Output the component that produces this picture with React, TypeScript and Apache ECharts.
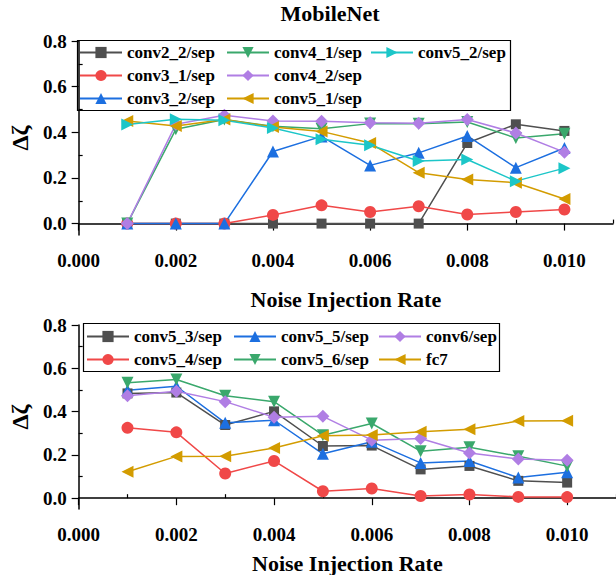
import React, { useEffect, useRef } from "react";
import * as echarts from "echarts";

const rates = [0.001, 0.002, 0.003, 0.004, 0.005, 0.006, 0.007, 0.008, 0.009, 0.01];

// Top chart (MobileNet)
const conv2_2 = [0, 0, 0, 0, 0, 0, 0, 0.353, 0.435, 0.406];
const conv3_1 = [0, 0, 0, 0.038, 0.08, 0.051, 0.076, 0.04, 0.051, 0.062];
const conv3_2 = [0, 0, 0, 0.316, 0.382, 0.255, 0.31, 0.384, 0.245, 0.331];
const conv4_1 = [0, 0.413, 0.456, 0.426, 0.415, 0.438, 0.437, 0.445, 0.375, 0.394];
const conv4_2 = [0, 0.435, 0.475, 0.45, 0.448, 0.442, 0.44, 0.456, 0.397, 0.313];
const conv5_1 = [0.45, 0.428, 0.456, 0.423, 0.404, 0.353, 0.223, 0.193, 0.179, 0.108];
const conv5_2 = [0.434, 0.457, 0.453, 0.419, 0.369, 0.343, 0.274, 0.281, 0.186, 0.243];

// Bottom chart
const conv5_3 = [0.484, 0.488, 0.338, 0.401, 0.241, 0.243, 0.133, 0.149, 0.08, 0.072];
const conv5_4 = [0.325, 0.304, 0.114, 0.172, 0.032, 0.045, 0.01, 0.017, 0.006, 0.005];
const conv5_5 = [0.499, 0.517, 0.348, 0.36, 0.205, 0.261, 0.163, 0.172, 0.095, 0.12];
const conv5_6 = [0.533, 0.548, 0.473, 0.446, 0.291, 0.345, 0.217, 0.235, 0.194, 0.148];
const conv6 = [0.473, 0.494, 0.446, 0.374, 0.378, 0.268, 0.276, 0.209, 0.181, 0.175];
const fc7 = [0.122, 0.193, 0.194, 0.232, 0.288, 0.292, 0.307, 0.318, 0.356, 0.358];

const xMajorTicks = [0, 0.002, 0.004, 0.006, 0.008, 0.01];
const xMinorTicks = [0.001, 0.003, 0.005, 0.007, 0.009, 0.011];
const yMajorTicks = [0, 0.2, 0.4, 0.6, 0.8];
const yMinorTicks = [0.1, 0.3, 0.5, 0.7];

const FONT = "Liberation Serif";

const C = {
  gray: "#4f4f4f",
  red: "#f04848",
  blue: "#1c6fe0",
  green: "#3aa86c",
  purple: "#b07ee4",
  gold: "#d39c00",
  cyan: "#1cc6c8",
};

function mk(name: string, vals: number[], color: string, symbol: string, rot: number, gi: number) {
  return {
    name,
    type: "line",
    xAxisIndex: gi * 2,
    yAxisIndex: gi * 2,
    data: rates.map((r, i) => [r, vals[i]]),
    symbol,
    symbolSize: symbol === "rect" ? 10 : symbol === "diamond" ? 13 : 12,
    symbolRotate: rot,
    lineStyle: { color, width: 1.5 },
    itemStyle: { color },
    showAllSymbol: true,
  };
}

function axesFor(gi: number) {
  const axisLine = { show: true, lineStyle: { color: "#000", width: 1.5 } };
  const lab = { fontFamily: FONT, fontWeight: "bold", fontSize: 19, color: "#000" };
  const xName = gi === 0 ? 53 : 43;
  const x = [
    {
      type: "value",
      gridIndex: gi,
      min: 0,
      max: 0.011,
      name: "Noise Injection Rate",
      nameLocation: "middle",
      nameGap: xName,
      nameTextStyle: { fontFamily: FONT, fontWeight: "bold", fontSize: 22, color: "#000" },
      axisLine,
      axisTick: { show: true, inside: false, length: 7, customValues: xMajorTicks, lineStyle: { color: "#000", width: 1.2 } },
      axisLabel: { ...lab, margin: 16, customValues: xMajorTicks, formatter: (v: number) => v.toFixed(3) },
      splitLine: { show: false },
    },
    {
      type: "value",
      gridIndex: gi,
      min: 0,
      max: 0.011,
      axisLine: { show: false },
      axisTick: { show: true, inside: false, length: 4, customValues: xMinorTicks, lineStyle: { color: "#000", width: 1.2 } },
      axisLabel: { show: false },
      splitLine: { show: false },
    },
  ];
  const y = [
    {
      type: "value",
      gridIndex: gi,
      min: -0.05,
      max: 0.8,
      name: "Δζ",
      nameLocation: "middle",
      nameGap: 44,
      nameRotate: 90,
      nameTextStyle: { fontFamily: FONT, fontWeight: "bold", fontSize: 24, color: "#000" },
      axisLine,
      axisTick: { show: true, inside: false, length: 7, customValues: yMajorTicks, lineStyle: { color: "#000", width: 1.2 } },
      axisLabel: { ...lab, margin: 12, customValues: yMajorTicks, formatter: (v: number) => v.toFixed(1) },
      splitLine: { show: false },
    },
    {
      type: "value",
      gridIndex: gi,
      min: -0.05,
      max: 0.8,
      axisLine: { show: false },
      axisTick: { show: true, inside: false, length: 4, customValues: yMinorTicks, lineStyle: { color: "#000", width: 1.2 } },
      axisLabel: { show: false },
      splitLine: { show: false },
    },
  ];
  return { x, y };
}

function legendCol(data: string[], left: number, top: number) {
  return {
    orient: "vertical",
    left,
    top,
    data,
    selectedMode: false,
    itemWidth: 42,
    itemHeight: 14,
    itemGap: 6,
    textStyle: { fontFamily: FONT, fontWeight: "bold", fontSize: 17, color: "#000" },
    padding: 0,
  };
}

export default function App() {
  const ref = useRef<HTMLDivElement>(null);
  useEffect(() => {
    if (!ref.current) return;
    const chart = echarts.init(ref.current, null, { renderer: "svg" });
    const a0 = axesFor(0);
    const a1 = axesFor(1);
    chart.setOption({
      animation: false,
      backgroundColor: "#fff",
      grid: [
        { left: 75, top: 41, width: 538, height: 194 },
        { left: 78, top: 325, width: 538, height: 187 },
      ],
      xAxis: [...a0.x, ...a1.x],
      yAxis: [...a0.y, ...a1.y],
      legend: [
        legendCol(["conv2_2/sep", "conv3_1/sep", "conv3_2/sep"], 79, 44),
        legendCol(["conv4_1/sep", "conv4_2/sep", "conv5_1/sep"], 226, 44),
        legendCol(["conv5_2/sep"], 370, 44),
        legendCol(["conv5_3/sep", "conv5_4/sep"], 86, 328),
        legendCol(["conv5_5/sep", "conv5_6/sep"], 233, 328),
        legendCol(["conv6/sep", "fc7"], 378, 328),
      ],
      graphic: [
        {
          type: "text",
          x: 330,
          y: 13,
          style: {
            text: "MobileNet",
            font: `bold 22px ${FONT}`,
            fill: "#000",
            textAlign: "center",
            textVerticalAlign: "middle",
          },
        },
        {
          type: "rect",
          shape: { x: 77.5, y: 40.5, width: 433, height: 70 },
          style: { fill: "none", stroke: "#000", lineWidth: 1.2 },
          z: 10,
        },
        {
          type: "rect",
          shape: { x: 83.5, y: 323.5, width: 416, height: 48 },
          style: { fill: "none", stroke: "#000", lineWidth: 1.2 },
          z: 10,
        },
      ],
      series: [
        mk("conv2_2/sep", conv2_2, C.gray, "rect", 0, 0),
        mk("conv3_1/sep", conv3_1, C.red, "circle", 0, 0),
        mk("conv3_2/sep", conv3_2, C.blue, "triangle", 0, 0),
        mk("conv4_1/sep", conv4_1, C.green, "triangle", 180, 0),
        mk("conv4_2/sep", conv4_2, C.purple, "diamond", 0, 0),
        mk("conv5_1/sep", conv5_1, C.gold, "triangle", 90, 0),
        mk("conv5_2/sep", conv5_2, C.cyan, "triangle", -90, 0),
        mk("conv5_3/sep", conv5_3, C.gray, "rect", 0, 1),
        mk("conv5_4/sep", conv5_4, C.red, "circle", 0, 1),
        mk("conv5_5/sep", conv5_5, C.blue, "triangle", 0, 1),
        mk("conv5_6/sep", conv5_6, C.green, "triangle", 180, 1),
        mk("conv6/sep", conv6, C.purple, "diamond", 0, 1),
        mk("fc7", fc7, C.gold, "triangle", 90, 1),
      ],
    });
    return () => chart.dispose();
  }, []);
  return (
    <div
      ref={ref}
      style={{ position: "absolute", left: 0, top: 0, width: 616, height: 575 }}
    />
  );
}
